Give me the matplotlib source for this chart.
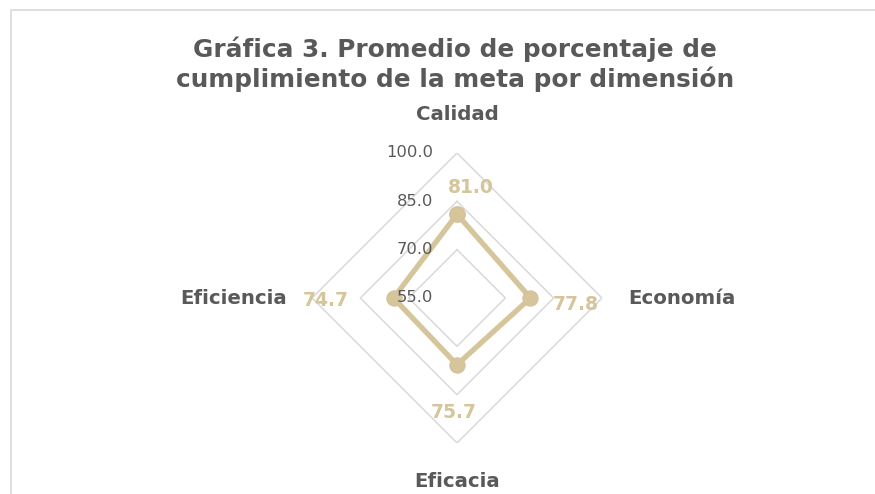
import numpy as np
import matplotlib
matplotlib.use("Agg")
import matplotlib.pyplot as plt
from matplotlib.patches import Rectangle

# Chart data
categories = ["Calidad", "Economía", "Eficacia", "Eficiencia"]
values = [81.0, 77.8, 75.7, 74.7]
ticks = [55.0, 70.0, 85.0, 100.0]
rmin, rmax = 55, 100

title = "Gráfica 3. Promedio de porcentaje de\ncumplimiento de la meta por dimensión"

gold = "#D5C59A"
gray = "#595959"
gridc = "#D9D9D9"

plt.rcParams["font.family"] = ["DejaVu Sans"]

fig = plt.figure(figsize=(8.75, 4.94), dpi=100)
W, H = 875, 494

# chart frame (only top and left edges visible)
fig.patches.append(Rectangle((11 / W, -0.1), 1.2, (494 - 10.5) / H + 0.1,
                             transform=fig.transFigure, fill=False,
                             edgecolor="#D9D9D9", lw=1.2))

fig.text(455 / W, 1 - 64 / H, title, ha="center", va="center",
         fontsize=17.8, fontweight="bold", color=gray, linespacing=1.2)

cx, cy, rad = 457, 298, 145
ax = fig.add_axes([(cx - rad) / W, (H - cy - rad) / H, 2 * rad / W, 2 * rad / H],
                  projection="polar")
ax.set_theta_zero_location("N")
ax.set_theta_direction(-1)
ax.set_ylim(rmin, rmax)
ax.axis("off")

n = len(categories)
angles = np.arange(n) * 2 * np.pi / n
closed = np.append(angles, angles[0])

# diamond gridlines
for t in ticks[1:]:
    ax.plot(closed, [t] * (n + 1), color=gridc, lw=1.1, zorder=1)

# data series
ax.plot(closed, values + values[:1], color=gold, lw=3.8, zorder=3,
        marker="o", markersize=11, markerfacecolor=gold,
        markeredgecolor="#D8BFA0", markeredgewidth=0.8, solid_joinstyle="miter")

# tick labels along the top axis
for t in ticks:
    px, py = ax.transData.transform((0, t))
    fig.text((px - 24) / W, py / H, f"{t:.1f}", ha="right", va="center",
             fontsize=11.8, color=gray)

# category labels
cat_off = [(0, 184), (225, 0), (0, -183), (-223, 0)]
for cat, (dx, dy) in zip(categories, cat_off):
    fig.text((cx + dx) / W, (H - cy + dy) / H, cat, ha="center", va="center",
             fontsize=14.2, fontweight="bold", color=gray)

# value labels
for a, v in zip(angles, values):
    px, py = ax.transData.transform((a, v))
    if np.isclose(a, 0):
        px, py = px + 14, py + 27
    elif np.isclose(a, np.pi / 2):
        px, py = px + 45, py - 6
    elif np.isclose(a, np.pi):
        px, py = px - 3, py - 48
    else:
        px, py = px - 68, py - 2
    fig.text(px / W, py / H, f"{v:.1f}", ha="center", va="center",
             fontsize=13.5, fontweight="bold", color=gold)

fig.savefig("out.png", dpi=100)
